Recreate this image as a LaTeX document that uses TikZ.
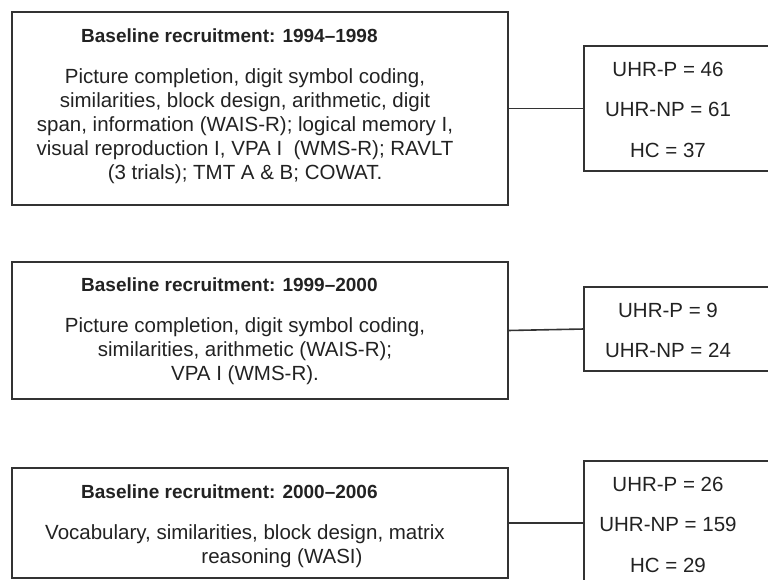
\documentclass[tikz,border=0pt]{standalone}
\usepackage{fontspec}
\setmainfont{Liberation Sans}
\definecolor{linec}{HTML}{333333}
\definecolor{textc}{HTML}{222222}
\begin{document}
\begin{tikzpicture}[x=1pt,y=-1pt,
  frame/.style={draw=linec, line width=1.6pt, inner sep=0pt, outer sep=0pt, fill=none},
  title/.style={anchor=base west, inner sep=0pt, text=textc, font=\bfseries\fontsize{19}{22}\selectfont},
  body/.style={anchor=north, inner sep=0pt, align=center, text=textc, font=\fontsize{20.5}{24}\selectfont},
  count/.style={anchor=base, inner sep=0pt, text=textc, font=\fontsize{20.5}{24}\selectfont},
  link/.style={draw=linec, line width=1.6pt}]
\useasboundingbox (0,0) rectangle (768,579);
\clip (0,0) rectangle (768,579);
% left boxes
\node[frame, minimum width=496pt, minimum height=193pt] (b1) at (260,108.5) {};
\node[frame, minimum width=496pt, minimum height=137pt] (b2) at (260,330.5) {};
\node[frame, minimum width=496pt, minimum height=110pt] (b3) at (260,523) {};
% right boxes
\node[frame, minimum width=206pt, minimum height=125pt] (r1) at (687,108.5) {};
\node[frame, minimum width=206pt, minimum height=84pt] (r2) at (687,329) {};
\node[frame, minimum width=206pt, minimum height=124pt] (r3) at (687,523) {};
% connectors
\draw[link] (b1.east) -- (r1.west);
\draw[link] (b2.east) -- (r2.west);
\draw[link] (b3.east) -- (r3.west);
% titles
\node[title] (t1) at (81,42) {Baseline recruitment: 1994--1998};
\node[title] (t2) at (81,291) {Baseline recruitment: 1999--2000};
\node[title] (t3) at (81,498) {Baseline recruitment: 2000--2006};
% bodies
\node[body] (d1) at (245,66.2) {\strut Picture completion, digit symbol coding,\\
similarities, block design, arithmetic, digit\\
span, information (WAIS-R); logical memory I,\\
visual reproduction I, VPA I\ \ (WMS-R); RAVLT\\
(3 trials); TMT A \& B; COWAT.};
\node[body] (d2) at (245,315.2) {\strut Picture completion, digit symbol coding,\\
similarities, arithmetic (WAIS-R);\\
VPA I (WMS-R).};
\node[body] (d3) at (245,522.2) {\strut Vocabulary, similarities, block design, matrix\\
\hspace*{74pt}reasoning (WASI)};
% counts
\node[count] (c11) at (668,76) {UHR-P = 46};
\node[count] (c12) at (668,116) {UHR-NP = 61};
\node[count] (c13) at (668,157) {HC = 37};
\node[count] (c21) at (668,317) {UHR-P = 9};
\node[count] (c22) at (668,357) {UHR-NP = 24};
\node[count] (c31) at (668,491) {UHR-P = 26};
\node[count] (c32) at (668,531) {UHR-NP = 159};
\node[count] (c33) at (668,572) {HC = 29};
\end{tikzpicture}
\end{document}
